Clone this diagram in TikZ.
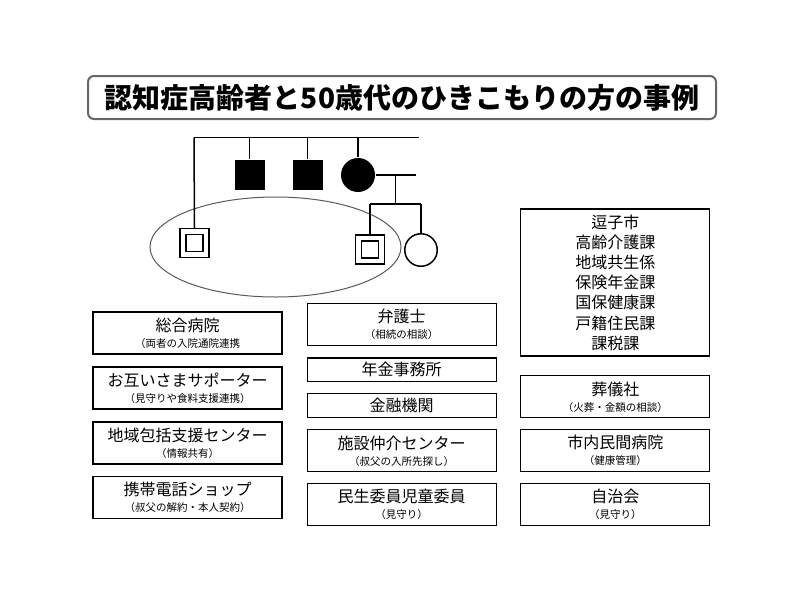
\documentclass[tikz,border=0pt]{standalone}
\usepackage{fontspec}
\setmainfont{Noto Sans CJK JP}
\usetikzlibrary{shapes.geometric}

\newcommand{\subnote}[1]{{\fontsize{10.5pt}{12pt}\selectfont #1}}

\begin{document}
\begin{tikzpicture}[x=1pt, y=-1pt, line width=1.5pt,
    titlebox/.style={draw=black!60, line width=2pt, rounded corners=6pt,
      minimum width=628pt, minimum height=43pt, inner sep=0pt,
      font=\bfseries\fontsize{28pt}{30pt}\selectfont},
    filledsq/.style={rectangle, fill=black, minimum size=30pt, inner sep=0pt},
    filledcirc/.style={circle, fill=black, minimum size=34pt, inner sep=0pt},
    opencirc/.style={circle, draw, minimum size=32.5pt, inner sep=0pt},
    dblsq/.style={rectangle, draw, line width=1.3pt, double, double distance=4.5pt,
      minimum size=23pt, inner sep=0pt, outer sep=3.55pt},
    household/.style={ellipse, draw=black!65, line width=1pt,
      minimum width=251pt, minimum height=100pt},
    box/.style={draw, line width=1.1pt, minimum width=189pt, minimum height=42pt,
      inner sep=0pt, align=center, font=\fontsize{16pt}{17pt}\selectfont},
    shortbox/.style={box, minimum height=23.5pt}]
  \useasboundingbox (0,0) rectangle (800,600);

  % Title
  \node[titlebox] (title) at (402,97.5) {認知症高齢者と50歳代のひきこもりの方の事例};

  % Family
  \node[dblsq] (elder) at (194.5,243) {};
  \node[filledsq] (uncleA) at (249.5,174.5) {};
  \node[filledsq] (uncleB) at (307.5,175) {};
  \node[filledcirc] (mother) at (358,175) {};
  \node[dblsq] (son) at (370,249.5) {};
  \node[opencirc] (sister) at (421,250) {};
  \node[household] (home) at (275.5,247) {};

  \coordinate (sibL) at (194,137.5); \coordinate (sibR) at (419,137.5);
  \coordinate (spouse) at (416,175);
  \coordinate (drop) at (395.7,175); \coordinate (kids) at (395.7,204);

  \draw (sibL) -- (sibR);
  \draw (sibL) -- (elder.north);
  \draw (uncleA.north) -- (uncleA.north |- sibL);
  \draw (uncleB.north) -- (uncleB.north |- sibL);
  \draw (mother.north) -- (mother.north |- sibL);
  \draw (mother.east) -- (spouse);
  \draw (drop) -- (kids);
  \draw (son.north |- kids) -- (sister.north |- kids);
  \draw (son.north) -- (son.north |- kids);
  \draw (sister.north) -- (sister.north |- kids);

  % Left column
  \node[box] (hospital) at (187.5,333) {総合病院\\[-1pt]\subnote{（両者の入院通院連携}};
  \node[box] (supporter) at (187.5,388) {お互いさまサポーター\\[-1pt]\subnote{（見守りや食料支援連携）}};
  \node[box] (center) at (187.5,443) {地域包括支援センター\\[-1pt]\subnote{（情報共有）}};
  \node[box] (phone) at (187.5,497.5) {携帯電話ショップ\\[-1pt]\subnote{（叔父の解約・本人契約）}};

  % Middle column
  \node[box] (lawyer) at (401.7,324.4) {弁護士\\[-1pt]\subnote{（相続の相談）}};
  \node[shortbox] (pension) at (401.7,369.7) {年金事務所};
  \node[shortbox] (bank) at (401.7,405.5) {金融機関};
  \node[box] (facility) at (401.7,450.8) {施設仲介センター\\[-1pt]\subnote{（叔父の入所先探し）}};
  \node[box] (welfare) at (401.7,504.2) {民生委員児童委員\\[-1pt]\subnote{（見守り）}};

  % Right column
  \node[box, minimum height=147pt, font=\fontsize{16pt}{20.2pt}\selectfont] (city) at (615.3,282.5)
    {逗子市\\高齢介護課\\地域共生係\\保険年金課\\国保健康課\\戸籍住民課\\課税課};
  \node[box] (funeral) at (615.3,396.8) {葬儀社\\[-1pt]\subnote{（火葬・金額の相談）}};
  \node[box] (clinic) at (615.3,450.3) {市内民間病院\\[-1pt]\subnote{（健康管理）}};
  \node[box] (council) at (615.3,504.3) {自治会\\[-1pt]\subnote{（見守り）}};
\end{tikzpicture}
\end{document}
